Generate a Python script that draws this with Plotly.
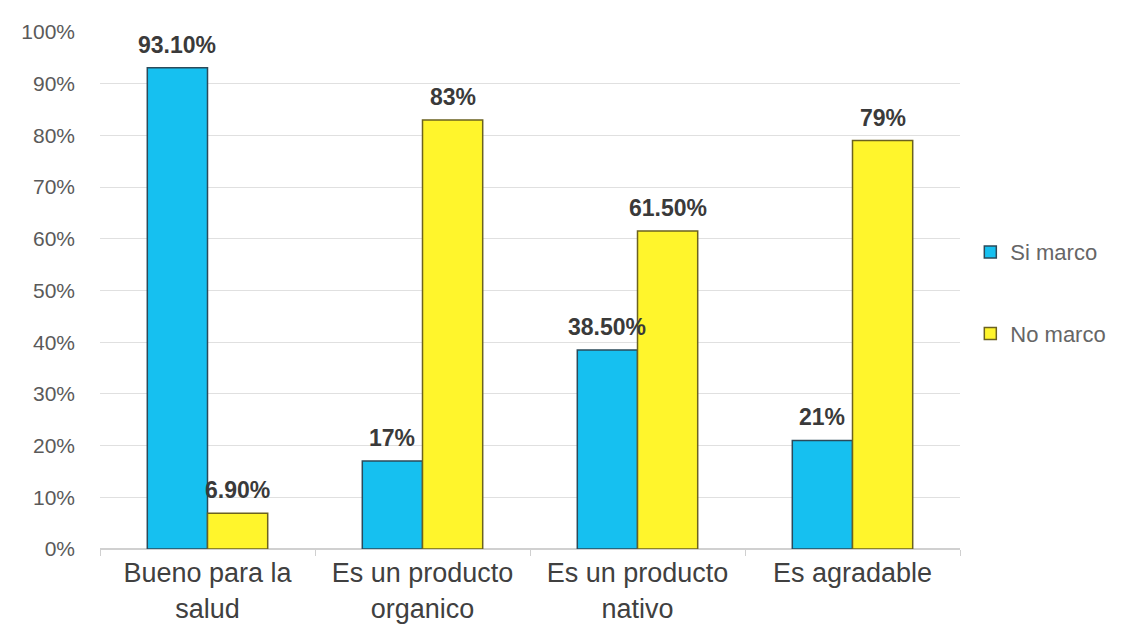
import plotly.graph_objects as go

categories = ["Bueno para la<br>salud", "Es un producto<br>organico", "Es un producto<br>nativo", "Es agradable"]
si_marco = [0.931, 0.17, 0.385, 0.21]
no_marco = [0.069, 0.83, 0.615, 0.79]
si_labels = ["93.10%", "17%", "38.50%", "21%"]
no_labels = ["6.90%", "83%", "61.50%", "79%"]
tick_vals = [i / 10 for i in range(11)]
tick_text = [f"{i*10}%" for i in range(11)]

FONT = "Liberation Sans, Arial"
BARGAP = 0.44

fig = go.Figure()
fig.add_trace(go.Bar(
    x=categories, y=si_marco, name="Si marco", legendgroup="a",
    marker=dict(color="#16C0F0", line=dict(color="#2B4A5A", width=1.5)),
))
fig.add_trace(go.Bar(
    x=categories, y=no_marco, name="No marco", legendgroup="b",
    marker=dict(color="#FFF52C", line=dict(color="#6B6220", width=1.5)),
))

# value labels placed over each bar (group offsets derived from bargap)
half = (1 - BARGAP) / 4
for series, labels, sign in [(si_marco, si_labels, -1), (no_marco, no_labels, 1)]:
    for i, (v, lab) in enumerate(zip(series, labels)):
        fig.add_annotation(x=i + sign * half, y=v, xref="x", yref="y",
                           text=f"<b>{lab}</b>", showarrow=False,
                           yanchor="bottom", yshift=8,
                           font=dict(family=FONT, size=23, color="#3A3A3A"))

fig.update_layout(
    width=1131, height=635,
    margin=dict(l=92, r=179, t=19, b=94),
    paper_bgcolor="white", plot_bgcolor="white",
    barmode="group", bargap=BARGAP, bargroupgap=0,
    font=dict(family=FONT, color="#555555"),
    showlegend=True,
    legend=dict(x=1.012, y=0.495, yanchor="middle", xanchor="left",
                font=dict(size=22, color="#666666"), tracegroupgap=50,
                itemwidth=30, bgcolor="rgba(0,0,0,0)"),
)
fig.update_yaxes(range=[0, 1], tickvals=tick_vals, ticktext=tick_text,
                 showgrid=True, gridcolor="#E0E0E0", gridwidth=1,
                 zeroline=True, zerolinecolor="#D0D0D0",
                 tickfont=dict(size=21, color="#5A5A5A"), ticks="", ticklen=0,
                 ticklabelstandoff=24, showline=False)
fig.update_xaxes(tickfont=dict(size=27, color="#404040"), showline=True,
                 linecolor="#D0D0D0", ticks="outside", tickcolor="#D0D0D0",
                 tickson="boundaries", ticklen=6, showgrid=False)
fig.write_html("out.html")
